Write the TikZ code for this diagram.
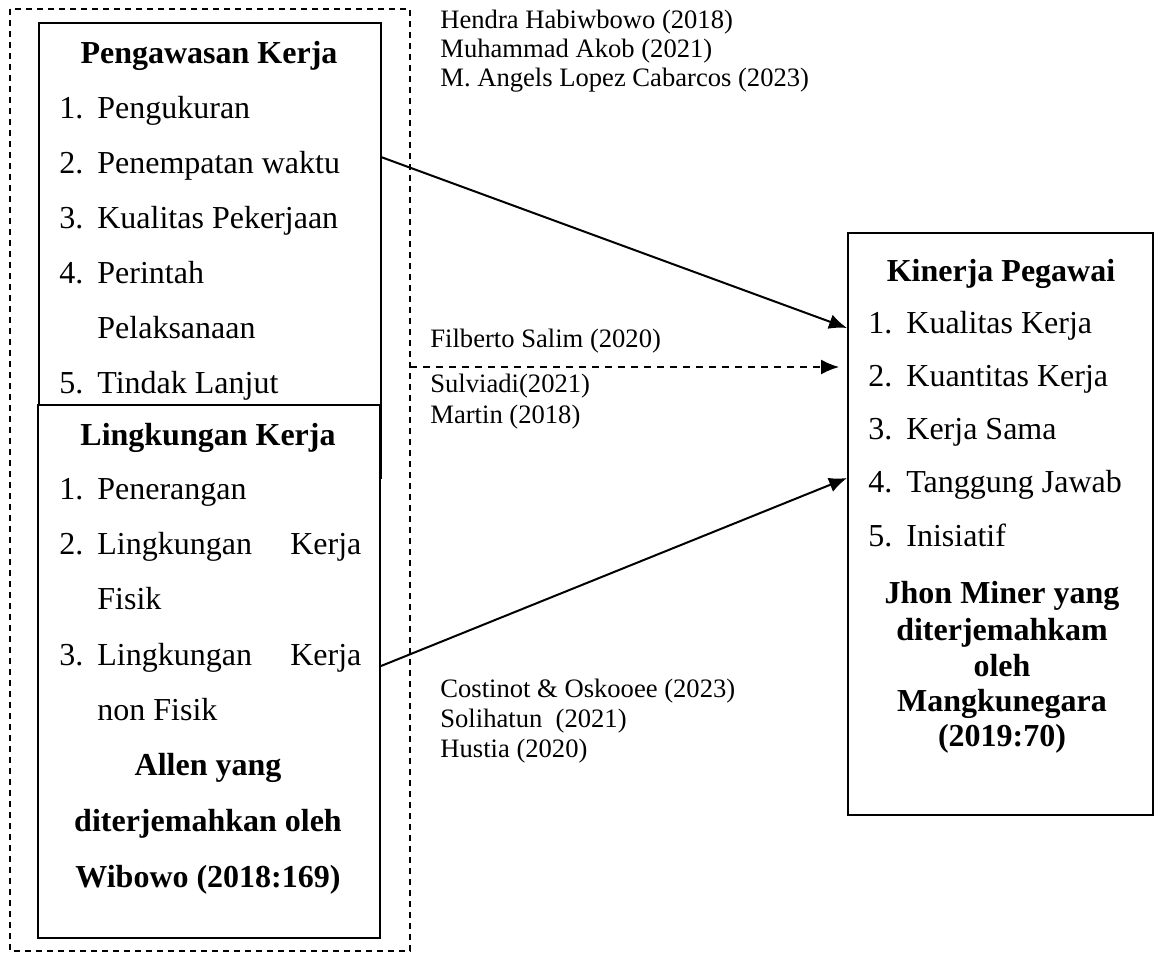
\documentclass[tikz,border=0pt]{standalone}
\usepackage{fontspec}
\setmainfont{Liberation Serif}
\usetikzlibrary{arrows.meta}

\newcommand{\bodysz}{\fontsize{16}{19}\selectfont}
\newcommand{\citesz}{\fontsize{13.3}{16}\selectfont}
\newcommand{\itemno}[1]{\makebox[19pt][l]{#1}}

\begin{document}
\begin{tikzpicture}[
    x=0.5pt, y=-0.5pt, % one unit = one pixel of the layout
    >={Latex[length=9pt,width=7.5pt]}, % Set default arrow tip style
    box/.style={draw, line width=0.8pt}, % Style for the variable frames
    groupbox/.style={draw, dash pattern=on 3pt off 2.5pt, line width=0.7pt}, % Style for the dashed frame
    link/.style={->, line width=1pt}, % Style for partial effects
    grouplink/.style={->, dash pattern=on 3.5pt off 3pt, line width=0.8pt}, % Style for the joint effect
    head/.style={anchor=base, inner sep=0pt, font=\bodysz\bfseries}, % Style for bold lines
    entry/.style={anchor=base west, inner sep=0pt, font=\bodysz}, % Style for indicators
    cite/.style={anchor=base west, inner sep=0pt, font=\citesz} % Style for references
]
    \useasboundingbox (0,0) rectangle (1154,953);

    % Frames
    \draw[groupbox] (10,9) rectangle (410,951);
    \draw[box] (39,23) rectangle (381,478);
    \draw[box, fill=white] (38,405) rectangle (380,938);
    \draw[box] (848,233) rectangle (1153,815);

    % Pengawasan Kerja
    \node[head] (pk) at (209,63) {Pengawasan Kerja};
    \node[entry] (pk1) at (59,118) {\itemno{1.}Pengukuran};
    \node[entry] (pk2) at (59,173) {\itemno{2.}Penempatan waktu};
    \node[entry] (pk3) at (59,228) {\itemno{3.}Kualitas Pekerjaan};
    \node[entry] (pk4) at (59,283) {\itemno{4.}Perintah};
    \node[entry] (pk4b) at (97,338) {Pelaksanaan};
    \node[entry] (pk5) at (59,393) {\itemno{5.}Tindak Lanjut};

    % Lingkungan Kerja
    \node[head] (lk) at (208,445) {Lingkungan Kerja};
    \node[entry] (lk1) at (59,499) {\itemno{1.}Penerangan};
    \node[entry] (lk2) at (59,554) {\itemno{2.}\hbox to 132pt{Lingkungan\hfill Kerja}};
    \node[entry] (lk2b) at (97,609) {Fisik};
    \node[entry] (lk3) at (59,665) {\itemno{3.}\hbox to 132pt{Lingkungan\hfill Kerja}};
    \node[entry] (lk3b) at (97,720) {non Fisik};
    \node[head] (lksrc1) at (208,775) {Allen yang};
    \node[head] (lksrc2) at (208,831) {diterjemahkan oleh};
    \node[head] (lksrc3) at (208,887) {Wibowo (2018:169)};

    % Kinerja Pegawai
    \node[head] (kp) at (1001,281) {Kinerja Pegawai};
    \node[entry] (kp1) at (868,333) {\itemno{1.}Kualitas Kerja};
    \node[entry] (kp2) at (868,386) {\itemno{2.}Kuantitas Kerja};
    \node[entry] (kp3) at (868,439) {\itemno{3.}Kerja Sama};
    \node[entry] (kp4) at (868,492) {\itemno{4.}Tanggung Jawab};
    \node[entry] (kp5) at (868,546) {\itemno{5.}Inisiatif};
    \node[head] (kpsrc1) at (1002,603) {Jhon Miner yang};
    \node[head] (kpsrc2) at (1002,640) {diterjemahkam};
    \node[head] (kpsrc3) at (1002,676) {oleh};
    \node[head] (kpsrc4) at (1002,711) {Mangkunegara};
    \node[head] (kpsrc5) at (1002,746) {(2019:70)};

    % Connectors
    \coordinate (pkout) at (381,157);
    \coordinate (lkout) at (381,666);
    \coordinate (grpout) at (410,367);
    \coordinate (kpin1) at (847,328);
    \coordinate (kpin2) at (839,367);
    \coordinate (kpin3) at (847,478);
    \draw[link] (pkout) -- (kpin1);
    \draw[grouplink] (grpout) -- (kpin2);
    \draw[link] (lkout) -- (kpin3);

    % References
    \node[cite] (ref1a) at (440,28) {Hendra Habiwbowo (2018)};
    \node[cite] (ref1b) at (440,57) {Muhammad Akob (2021)};
    \node[cite] (ref1c) at (440,86) {M. Angels Lopez Cabarcos (2023)};
    \node[cite] (ref2a) at (430,347) {Filberto Salim (2020)};
    \node[cite] (ref2b) at (430,392) {Sulviadi(2021)};
    \node[cite] (ref2c) at (430,423) {Martin (2018)};
    \node[cite] (ref3a) at (440,697) {Costinot \& Oskooee (2023)};
    \node[cite] (ref3b) at (440,727) {Solihatun\ \ (2021)};
    \node[cite] (ref3c) at (440,757) {Hustia (2020)};

\end{tikzpicture}
\end{document}
